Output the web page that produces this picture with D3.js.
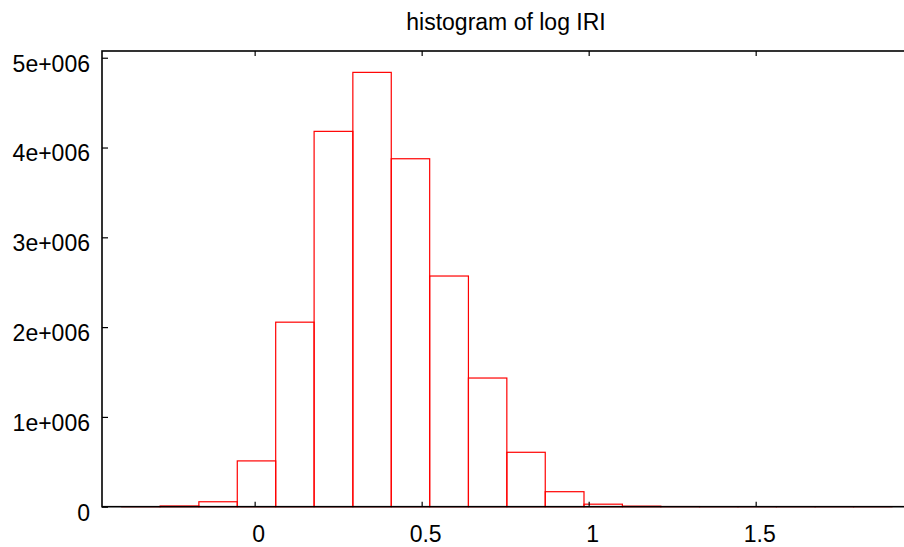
<!DOCTYPE html>
<html>
<head>
<meta charset="utf-8">
<script src="https://cdn.jsdelivr.net/npm/d3@7"></script>
<style>
  html, body { margin: 0; padding: 0; background: #fff; overflow: hidden; }
  svg { display: block; }
  text { font-family: "Liberation Sans", Arial, sans-serif; fill: #000; }
</style>
</head>
<body>
<svg id="chart" width="904" height="547"></svg>
<script>
// ---- data ----
const title = "histogram of log IRI";
const binEdges = [-0.398, -0.283, -0.167, -0.052, 0.063, 0.178, 0.294, 0.409, 0.524, 0.640,
                  0.755, 0.870, 0.986, 1.101, 1.216, 1.332, 1.447, 1.562, 1.678, 1.793, 1.908];
const counts = [1000, 8000, 55000, 510000, 2055000, 4180000, 4837000, 3875000, 2569000, 1433000,
                606000, 167000, 28000, 6000, 1500, 500, 200, 100, 50, 20];
const xTicks = [0, 0.5, 1, 1.5];
const xTickLabels = ["0", "0.5", "1", "1.5"];
const yTicks = [0, 1e6, 2e6, 3e6, 4e6, 5e6];
const yTickLabels = ["0", "1e+006", "2e+006", "3e+006", "4e+006", "5e+006"];

// ---- layout ----
const svg = d3.select("#chart");
const L = 102, R = 910, T = 51, B = 506.7;
const x = d3.scaleLinear().domain([-0.457, 1.962]).range([L, R]);
const y = d3.scaleLinear().domain([0, 5.075e6]).range([B, T]);

const bins = counts.map((c, i) => ({x0: binEdges[i], x1: binEdges[i + 1], c}));

// bars
svg.append("g").selectAll("rect").data(bins).join("rect")
  .attr("x", d => x(d.x0))
  .attr("y", d => y(d.c))
  .attr("width", d => x(d.x1) - x(d.x0))
  .attr("height", d => Math.max(0, B - y(d.c)))
  .attr("fill", "none")
  .attr("stroke", "#ff0000")
  .attr("stroke-width", 1.2);

// frame
svg.append("rect")
  .attr("x", L).attr("y", T).attr("width", R - L).attr("height", B - T)
  .attr("fill", "none").attr("stroke", "#000").attr("stroke-width", 1.6);

// x axis (bottom, ticks inward) and mirrored top ticks
const xAxisB = d3.axisBottom(x).tickValues(xTicks).tickSize(-5).tickPadding(0)
  .tickFormat((d, i) => xTickLabels[i]);
const gxb = svg.append("g").attr("transform", `translate(0,${B})`).call(xAxisB);
gxb.select(".domain").remove();
gxb.selectAll("line").attr("stroke", "#000").attr("stroke-width", 1.2);
gxb.selectAll("text").style("font-size", "23px").attr("font-family", "Liberation Sans, Arial, sans-serif")
  .attr("y", 35.5).attr("dy", 0).attr("dx", 3.5);

const xAxisT = d3.axisTop(x).tickValues(xTicks).tickSize(-5).tickFormat("");
const gxt = svg.append("g").attr("transform", `translate(0,${T})`).call(xAxisT);
gxt.select(".domain").remove();
gxt.selectAll("line").attr("stroke", "#000").attr("stroke-width", 1.2);

// y axis (left, ticks inward)
const yAxis = d3.axisLeft(y).tickValues(yTicks).tickSize(-6).tickPadding(12)
  .tickFormat((d, i) => yTickLabels[i]);
const gy = svg.append("g").attr("transform", `translate(${L},0)`).call(yAxis);
gy.select(".domain").remove();
gy.selectAll("line").attr("stroke", "#000").attr("stroke-width", 1.2);
gy.selectAll("text").style("font-size", "23px").attr("font-family", "Liberation Sans, Arial, sans-serif")
  .attr("dy", "0.58em");

// title
svg.append("text")
  .attr("x", (L + R) / 2).attr("y", 30)
  .attr("text-anchor", "middle")
  .style("font-size", "23px")
  .text(title);
</script>
</body>
</html>
